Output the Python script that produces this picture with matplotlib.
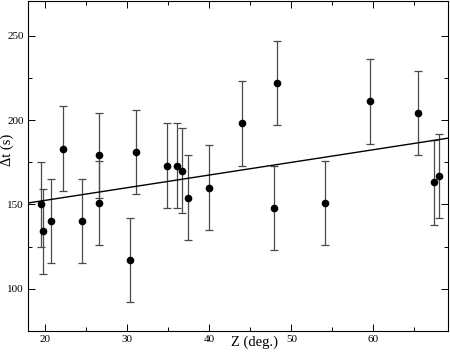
import matplotlib
matplotlib.use("Agg")
import matplotlib.pyplot as plt
import numpy as np

plt.rcParams['font.family'] = ['Liberation Serif', 'DejaVu Serif']
plt.rcParams['mathtext.fontset'] = 'stix'

# Data
zenith = [19.5, 19.7, 20.7, 22.2, 24.5, 26.5, 26.6, 30.3, 31.1, 34.8, 36.1,
          36.7, 37.4, 40.0, 44.0, 48.3, 47.9, 54.1, 59.6, 65.4, 67.4, 68.0]
delta_t = [150, 134, 140, 183, 140, 179, 151, 117, 181, 173, 173,
           170, 154, 160, 198, 222, 148, 151, 211, 204, 163, 167]
errors = [25] * len(zenith)

fit_intercept = 137.4
fit_slope = 0.75

x_ticks = [20, 30, 40, 50, 60]
y_ticks = [100, 150, 200, 250]

fig = plt.figure(figsize=(4.5, 3.54), dpi=100)
ax = fig.add_axes([28/450, 23/354, 420/450, 330/354])

ax.errorbar(zenith, delta_t, yerr=errors, fmt='none', ecolor='#4a4a4a',
            elinewidth=0.9, capsize=3.2, capthick=0.9, zorder=2)
ax.plot(zenith, delta_t, 'o', color='black', markersize=4.5, zorder=3)

xl = np.array([17.9, 69.1])
ax.plot(xl, fit_intercept + fit_slope * xl, color='black', lw=1.0, zorder=2)

ax.set_xlim(17.9, 69.1)
ax.set_ylim(75, 270.5)
ax.set_xticks(x_ticks)
ax.set_yticks(y_ticks)
ax.set_xticks(np.arange(25, 70, 10), minor=True)
ax.set_yticks(np.arange(75, 275, 50), minor=True)

ax.tick_params(which='both', direction='in', top=True, right=True,
               labelsize=8, width=0.7, colors='black')
ax.tick_params(which='major', length=5)
ax.tick_params(which='minor', length=3)
ax.tick_params(axis='x', pad=3)
ax.tick_params(axis='y', pad=3)
for s in ax.spines.values():
    s.set_linewidth(0.8)

ax.set_xlabel('Z (deg.)', fontsize=10.5)
ax.xaxis.set_label_coords(0.54, -0.015)
ax.set_ylabel('Δt (s)', fontsize=10.5)
ax.yaxis.set_label_coords(-0.034, 0.548)

fig.savefig('out.png', dpi=100)
